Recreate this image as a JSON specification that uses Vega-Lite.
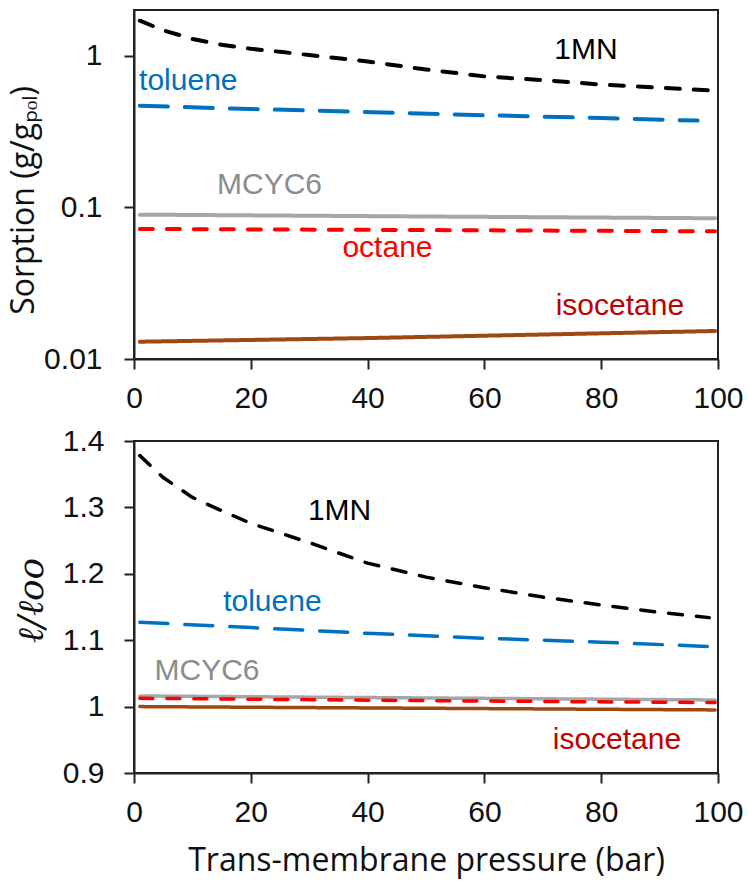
{
  "$schema": "https://vega.github.io/schema/vega-lite/v6.json",
  "padding": {"left": 6, "top": 9, "right": 4, "bottom": 2},
  "spacing": 11,
  "config": {
    "view": {"stroke": "#222222", "strokeWidth": 2},
    "axis": {
      "grid": false,
      "labelFlush": false,
      "domainColor": "#222222",
      "domainWidth": 2,
      "tickColor": "#222222",
      "tickWidth": 2,
      "tickSize": 10,
      "labelFont": "Liberation Sans",
      "labelFontSize": 30,
      "labelColor": "#111111",
      "titleFont": "Open Sans",
      "titleFontSize": 32,
      "titleFontWeight": "normal",
      "titleColor": "#111111"
    }
  },
  "datasets": {
    "sorp": [
      {"solvent": "1MN", "p": 1, "s": 1.70},
      {"solvent": "1MN", "p": 5, "s": 1.47},
      {"solvent": "1MN", "p": 10, "s": 1.29},
      {"solvent": "1MN", "p": 15, "s": 1.18},
      {"solvent": "1MN", "p": 20, "s": 1.11},
      {"solvent": "1MN", "p": 25, "s": 1.06},
      {"solvent": "1MN", "p": 30, "s": 1.01},
      {"solvent": "1MN", "p": 40, "s": 0.915},
      {"solvent": "1MN", "p": 50, "s": 0.81},
      {"solvent": "1MN", "p": 60, "s": 0.73},
      {"solvent": "1MN", "p": 70, "s": 0.69},
      {"solvent": "1MN", "p": 80, "s": 0.645},
      {"solvent": "1MN", "p": 90, "s": 0.615},
      {"solvent": "1MN", "p": 98.5, "s": 0.59},
      {"solvent": "toluene", "p": 1, "s": 0.467},
      {"solvent": "toluene", "p": 20, "s": 0.445},
      {"solvent": "toluene", "p": 41, "s": 0.424},
      {"solvent": "toluene", "p": 60, "s": 0.405},
      {"solvent": "toluene", "p": 80, "s": 0.388},
      {"solvent": "toluene", "p": 96.5, "s": 0.373},
      {"solvent": "MCYC6", "p": 1, "s": 0.0895},
      {"solvent": "MCYC6", "p": 50, "s": 0.087},
      {"solvent": "MCYC6", "p": 99.5, "s": 0.0847},
      {"solvent": "octane", "p": 1, "s": 0.072},
      {"solvent": "octane", "p": 50, "s": 0.0708},
      {"solvent": "octane", "p": 99.5, "s": 0.0695},
      {"solvent": "isocetane", "p": 1, "s": 0.0130},
      {"solvent": "isocetane", "p": 40, "s": 0.01374},
      {"solvent": "isocetane", "p": 70, "s": 0.0145},
      {"solvent": "isocetane", "p": 99.5, "s": 0.0153}
    ],
    "sorpLabels": [
      {"label": "1MN", "p": 77.4, "s": 1.09},
      {"label": "toluene", "p": 9.3, "s": 0.685},
      {"label": "MCYC6", "p": 23.2, "s": 0.141},
      {"label": "octane", "p": 43.4, "s": 0.0537},
      {"label": "isocetane", "p": 83.2, "s": 0.0223}
    ],
    "len": [
      {"solvent": "1MN", "p": 1, "r": 1.378},
      {"solvent": "1MN", "p": 5, "r": 1.345},
      {"solvent": "1MN", "p": 10, "r": 1.315},
      {"solvent": "1MN", "p": 15, "r": 1.295},
      {"solvent": "1MN", "p": 20, "r": 1.276},
      {"solvent": "1MN", "p": 30, "r": 1.247},
      {"solvent": "1MN", "p": 40, "r": 1.216},
      {"solvent": "1MN", "p": 50, "r": 1.195},
      {"solvent": "1MN", "p": 60, "r": 1.179},
      {"solvent": "1MN", "p": 70, "r": 1.165},
      {"solvent": "1MN", "p": 80, "r": 1.153},
      {"solvent": "1MN", "p": 90, "r": 1.142},
      {"solvent": "1MN", "p": 98.5, "r": 1.134},
      {"solvent": "toluene", "p": 1, "r": 1.127},
      {"solvent": "toluene", "p": 20, "r": 1.119},
      {"solvent": "toluene", "p": 41, "r": 1.110},
      {"solvent": "toluene", "p": 60, "r": 1.103},
      {"solvent": "toluene", "p": 80, "r": 1.097},
      {"solvent": "toluene", "p": 100, "r": 1.090},
      {"solvent": "MCYC6", "p": 1, "r": 1.016},
      {"solvent": "MCYC6", "p": 50, "r": 1.013},
      {"solvent": "MCYC6", "p": 99.5, "r": 1.010},
      {"solvent": "octane", "p": 1, "r": 1.0125},
      {"solvent": "octane", "p": 50, "r": 1.009},
      {"solvent": "octane", "p": 99.5, "r": 1.006},
      {"solvent": "isocetane", "p": 1, "r": 1.000},
      {"solvent": "isocetane", "p": 50, "r": 0.9975},
      {"solvent": "isocetane", "p": 99.5, "r": 0.995}
    ],
    "lenLabels": [
      {"label": "1MN", "p": 35.2, "r": 1.294},
      {"label": "toluene", "p": 23.7, "r": 1.158},
      {"label": "MCYC6", "p": 12.5, "r": 1.053},
      {"label": "isocetane", "p": 82.7, "r": 0.950}
    ]
  },
  "vconcat": [
    {
      "width": 584,
      "height": 349,
      "resolve": {"scale": {"color": "independent"}},
      "layer": [
        {
          "data": {"name": "sorp"},
          "mark": {"type": "line", "strokeWidth": 4, "strokeCap": "round"},
          "encoding": {
            "x": {"field": "p", "type": "quantitative", "scale": {"domain": [0, 100], "nice": false},
                  "axis": {"values": [0, 20, 40, 60, 80, 100], "title": null, "labelPadding": 14}},
            "y": {"field": "s", "type": "quantitative", "scale": {"type": "log", "domain": [0.01, 2], "nice": false},
                  "axis": {"values": [0.01, 0.1, 1], "format": "~g", "labelPadding": 22, "title": "Sorption (g/gₚₒₗ)", "titlePadding": 3, "titleY": 190}},
            "color": {"field": "solvent", "type": "nominal", "legend": null,
                      "scale": {"domain": ["1MN", "toluene", "MCYC6", "octane", "isocetane"], "range": ["#000000", "#0070c0", "#a6a6a6", "#ff0000", "#9c4a12"]}},
            "strokeDash": {"field": "solvent", "type": "nominal", "legend": null,
                      "scale": {"domain": ["1MN", "toluene", "MCYC6", "octane", "isocetane"], "range": [[14, 14], [28, 17], [1, 0], [13, 14], [1, 0]]}}
          }
        },
        {
          "data": {"name": "sorpLabels"},
          "mark": {"type": "text", "font": "Liberation Sans", "fontSize": 30},
          "encoding": {
            "x": {"field": "p", "type": "quantitative"},
            "y": {"field": "s", "type": "quantitative"},
            "text": {"field": "label"},
            "color": {"field": "label", "type": "nominal", "legend": null,
                      "scale": {"domain": ["1MN", "toluene", "MCYC6", "octane", "isocetane"], "range": ["#000000", "#0070c0", "#8c8c8c", "#ff0000", "#c00000"]}}
          }
        }
      ]
    },
    {
      "width": 584,
      "height": 332,
      "resolve": {"scale": {"color": "independent"}},
      "layer": [
        {
          "data": {"name": "len"},
          "mark": {"type": "line", "strokeWidth": 3.5, "strokeCap": "round"},
          "encoding": {
            "x": {"field": "p", "type": "quantitative", "scale": {"domain": [0, 100], "nice": false},
                  "axis": {"values": [0, 20, 40, 60, 80, 100], "title": "Trans-membrane pressure (bar)", "labelPadding": 14, "titlePadding": 18}},
            "y": {"field": "r", "type": "quantitative", "scale": {"domain": [0.9, 1.4], "nice": false, "zero": false},
                  "axis": {"values": [0.9, 1, 1.1, 1.2, 1.3, 1.4], "format": "~g", "labelPadding": 20, "title": "ℓ/ℓoo", "titleFont": "DejaVu Serif", "titleFontStyle": "italic", "titleFontSize": 36, "titlePadding": 12, "titleY": 159}},
            "color": {"field": "solvent", "type": "nominal", "legend": null,
                      "scale": {"domain": ["1MN", "toluene", "MCYC6", "octane", "isocetane"], "range": ["#000000", "#0070c0", "#a6a6a6", "#ff0000", "#9c4a12"]}},
            "strokeDash": {"field": "solvent", "type": "nominal", "legend": null,
                      "scale": {"domain": ["1MN", "toluene", "MCYC6", "octane", "isocetane"], "range": [[14, 14], [28, 17], [1, 0], [13, 14], [1, 0]]}}
          }
        },
        {
          "data": {"name": "lenLabels"},
          "mark": {"type": "text", "font": "Liberation Sans", "fontSize": 30},
          "encoding": {
            "x": {"field": "p", "type": "quantitative"},
            "y": {"field": "r", "type": "quantitative"},
            "text": {"field": "label"},
            "color": {"field": "label", "type": "nominal", "legend": null,
                      "scale": {"domain": ["1MN", "toluene", "MCYC6", "isocetane"], "range": ["#000000", "#0070c0", "#8c8c8c", "#c00000"]}}
          }
        }
      ]
    }
  ]
}
